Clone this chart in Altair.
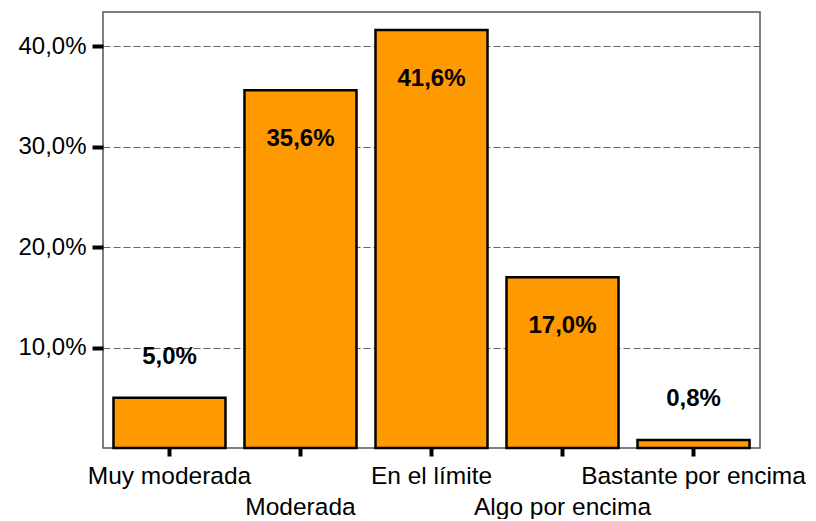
import json
import altair as alt
import pandas as pd

categories = ["Muy moderada", "Moderada", "En el límite", "Algo por encima", "Bastante por encima"]
values = [5.0, 35.6, 41.6, 17.0, 0.8]
value_labels = ["5,0%", "35,6%", "41,6%", "17,0%", "0,8%"]
inside = [False, True, True, True, False]
y_ticks = [10, 20, 30, 40]

df = pd.DataFrame({"cat": categories, "val": values, "lab": value_labels, "inside": inside})

lower_row = [c for i, c in enumerate(categories) if i % 2 == 1]
x_label_expr = ("indexof(" + json.dumps(lower_row, ensure_ascii=False)
                + ", datum.label) >= 0 ? [' ', datum.label] : datum.label")
y_label_expr = "replace(format(datum.value, '.1f'), '.', ',') + '%'"

FONT = "Liberation Sans"

x_enc = alt.X(
    "cat:N", sort=categories,
    scale=alt.Scale(paddingInner=0.145, paddingOuter=0.08),
    axis=alt.Axis(title=None, labelAngle=0, labelExpr=x_label_expr,
                  labelFontSize=24.5, labelFont=FONT, labelColor="black",
                  tickColor="black", tickWidth=4, tickSize=8, labelLimit=0,
                  labelPadding=8, domain=False, labelLineHeight=31),
)
y_enc = alt.Y(
    "val:Q",
    scale=alt.Scale(domain=[0, 43.4], nice=False),
    axis=alt.Axis(title=None, values=y_ticks, labelExpr=y_label_expr,
                  grid=True, gridDash=[7, 3], gridColor="#666", gridWidth=1,
                  tickColor="black", tickWidth=4, tickSize=11,
                  labelPadding=6, domain=False, labelFontSize=24,
                  labelFont=FONT, labelColor="black"),
)

base = alt.Chart(df)

bars = base.mark_bar(color="#FF9900", stroke="black", strokeWidth=2.5).encode(x=x_enc, y=y_enc)

txt_in = base.transform_filter("datum.inside").mark_text(
    dy=49, fontSize=24, fontWeight="bold", font=FONT, baseline="middle", color="black"
).encode(x=alt.X("cat:N", sort=categories), y="val:Q", text="lab:N")

txt_out = base.transform_filter("!datum.inside").mark_text(
    dy=-41, fontSize=24, fontWeight="bold", font=FONT, baseline="middle", color="black"
).encode(x=alt.X("cat:N", sort=categories), y="val:Q", text="lab:N")

chart = alt.layer(bars, txt_in, txt_out).properties(
    width=657, height=436,
    padding={"left": 9, "top": 4, "right": 0, "bottom": 0},
).configure_view(stroke="#555", strokeWidth=1.5)

chart.save("out.html", embed_options={"renderer": "svg", "actions": False})
